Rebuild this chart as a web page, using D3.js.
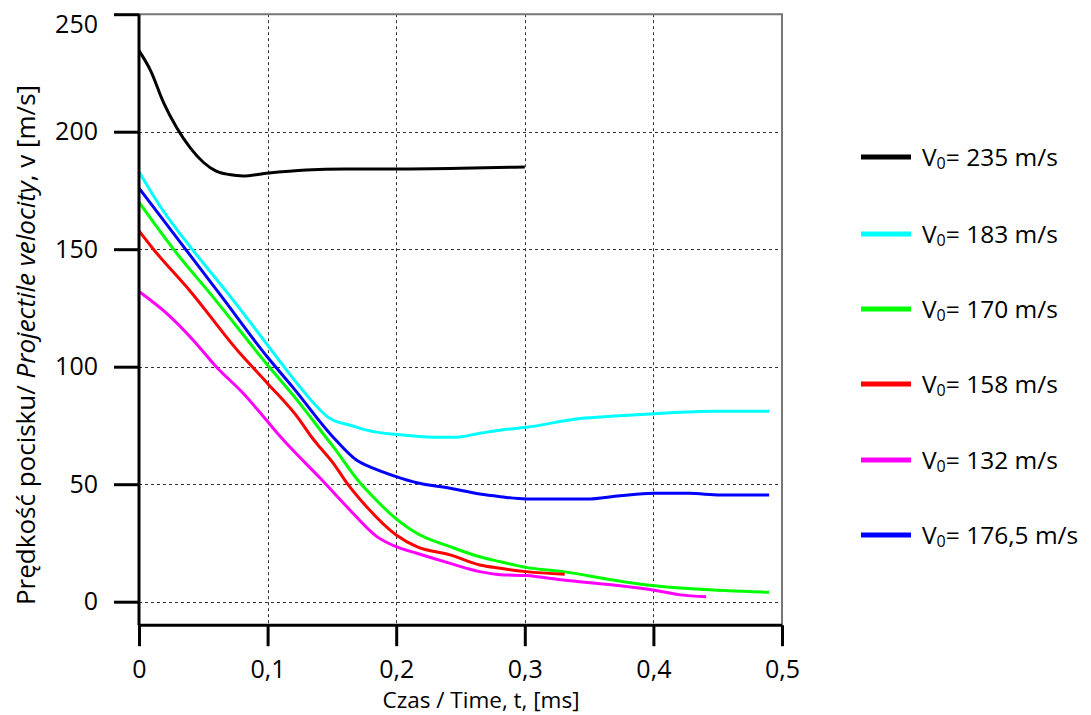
<!DOCTYPE html>
<html>
<head>
<meta charset="utf-8">
<script src="https://cdn.jsdelivr.net/npm/d3@7"></script>
<style>
  html, body { margin: 0; padding: 0; background: #fff; }
  svg { display: block; font-family: "Open Sans", sans-serif; }
</style>
</head>
<body>
<svg id="chart" width="1091" height="715"></svg>
<script>
// ---- data (t in ms, v in m/s) ----
const xTicks = [0, 0.1, 0.2, 0.3, 0.4, 0.5];
const yTicks = [0, 50, 100, 150, 200, 250];

const labels = ["235", "183", "170", "158", "132", "176,5"];
const colors = ["#000000", "#00ffff", "#00ff00", "#ff0000", "#ff00ff", "#0000ff"];

const v235 = [[0,234.5],[0.009,226],[0.019,212.5],[0.029,202],[0.04,193],[0.05,187],[0.06,183.2],[0.07,181.8],[0.081,181.2],[0.099,182.3],[0.13,183.7],[0.16,184.1],[0.2,184.1],[0.25,184.4],[0.3,185]];
const v183 = [[0,183],[0.018,167],[0.037,153],[0.0694,131],[0.1,109.2],[0.112,100.5],[0.125,91.5],[0.1485,78],[0.165,75],[0.177,73],[0.203,71],[0.229,70],[0.247,70],[0.265,71.7],[0.281,73],[0.301,74.2],[0.343,78],[0.37,79],[0.401,80],[0.447,81],[0.49,81]];
const v170 = [[0,170],[0.0268,150],[0.0578,129.5],[0.1,100.7],[0.125,84.4],[0.145,70.2],[0.151,66],[0.172,50.5],[0.177,47.5],[0.198,36.2],[0.216,29.1],[0.242,23.4],[0.265,19.1],[0.281,17],[0.301,14.6],[0.33,12.8],[0.369,9.2],[0.401,6.8],[0.434,5.4],[0.49,4.0]];
const v158 = [[0,157.8],[0.0112,150],[0.04,132],[0.078,106],[0.1,92.9],[0.125,77.3],[0.134,70.2],[0.141,65.5],[0.151,59],[0.161,51],[0.177,40.4],[0.2,28.4],[0.216,23.4],[0.242,19.9],[0.265,15.6],[0.281,14.2],[0.301,12.8],[0.331,11.7]];
const v132 = [[0,132],[0.0215,122.7],[0.042,111.4],[0.06,100],[0.081,88.7],[0.099,77.3],[0.11,70.2],[0.117,66],[0.141,52.5],[0.164,39],[0.185,27.7],[0.2,23.4],[0.216,20.6],[0.242,16.3],[0.265,12.8],[0.281,11.5],[0.301,11.1],[0.33,9.2],[0.369,7.1],[0.403,4.7],[0.421,2.9],[0.441,2.1]];
const v176 = [[0,176],[0.032,153],[0.064,130],[0.1,104],[0.12,91],[0.151,70],[0.169,60.3],[0.182,56.8],[0.2,53.2],[0.216,50.6],[0.242,48.3],[0.265,45.8],[0.281,44.7],[0.301,43.7],[0.348,43.7],[0.374,45.1],[0.4,46.1],[0.428,46.1],[0.452,45.4],[0.49,45.4]];

const seriesData = [v235, v183, v170, v158, v132, v176];
const drawOrder = [0, 1, 5, 2, 3, 4];

// ---- layout ----
const svg = d3.select("#chart");
const x = d3.scaleLinear().domain([0, 0.5]).range([139, 782]);
const y = d3.scaleLinear().domain([-10, 250]).range([625.2, 14.2]);
const fmt = d => d === 0 ? "0" : String(d).replace(".", ",");

// grid
const grid = svg.append("g");
grid.selectAll("line.h").data(yTicks.filter(d => d < 250)).join("line")
  .attr("x1", x(0)).attr("x2", x(0.5))
  .attr("y1", d => Math.round(y(d)) + 0.5).attr("y2", d => Math.round(y(d)) + 0.5)
  .attr("stroke", "#333").attr("stroke-width", 1).attr("stroke-dasharray", "3,3");
grid.selectAll("line.v").data(xTicks.filter(d => d > 0 && d < 0.5)).join("line")
  .attr("x1", d => Math.round(x(d)) + 0.5).attr("x2", d => Math.round(x(d)) + 0.5)
  .attr("y1", y(250)).attr("y2", y(-10))
  .attr("stroke", "#333").attr("stroke-width", 1).attr("stroke-dasharray", "3,3");

// top/right border
svg.append("path")
  .attr("d", `M${x(0)},${y(250)}H${x(0.5)}V${y(-10)}`)
  .attr("fill", "none").attr("stroke", "#777").attr("stroke-width", 2);

// lines
const line = d3.line().x(d => x(d[0])).y(d => y(d[1])).curve(d3.curveMonotoneX);
svg.append("g").selectAll("path").data(drawOrder).join("path")
  .attr("d", i => line(seriesData[i]))
  .attr("fill", "none").attr("stroke", i => colors[i])
  .attr("stroke-width", 3).attr("stroke-linejoin", "round");

// axes
const yAxis = svg.append("g").attr("transform", `translate(${x(0)},0)`)
  .call(d3.axisLeft(y).tickValues(yTicks).tickSize(25).tickPadding(16).tickFormat(fmt));
const xAxis = svg.append("g").attr("transform", `translate(0,${y(-10)})`)
  .call(d3.axisBottom(x).tickValues(xTicks).tickSize(21).tickPadding(14).tickFormat(fmt));
[yAxis, xAxis].forEach(a => {
  a.select(".domain").attr("stroke", "#000").attr("stroke-width", 3);
  a.selectAll(".tick line").attr("stroke", "#000").attr("stroke-width", 3);
  a.selectAll(".tick text").attr("fill", "#000").style("font-size", "25px")
    .style("font-family", "'Open Sans', sans-serif");
});
yAxis.select(".domain").attr("d", `M0,${y(250)}V${y(-10)}`);
xAxis.select(".domain").attr("d", `M${x(0)},0H${x(0.5)}`);
// top label sits below its tick so that it stays inside the picture
yAxis.selectAll(".tick text").filter(d => d === 250).attr("dy", "0.75em");

// axis titles
svg.append("text").attr("x", 481).attr("y", 708).attr("text-anchor", "middle")
  .style("font-size", "22.5px").text("Czas / Time, t, [ms]");
const yt = svg.append("text").attr("transform", "translate(35,345) rotate(-90)")
  .attr("text-anchor", "middle").style("font-size", "26px");
yt.append("tspan").text("Prędkość pocisku/ ");
yt.append("tspan").style("font-style", "italic").text("Projectile velocity");
yt.append("tspan").text(", v [m/s]");

// legend
const legendY = [157, 234, 309, 384, 460, 535];
const leg = svg.append("g").selectAll("g").data(d3.range(6)).join("g")
  .attr("transform", i => `translate(861,${legendY[i]})`);
leg.append("line").attr("x1", 0).attr("x2", 50).attr("y1", 0).attr("y2", 0)
  .attr("stroke", i => colors[i]).attr("stroke-width", 5);
const lt = leg.append("text").attr("x", 61).attr("y", 8.5).style("font-size", "24.5px");
lt.append("tspan").text("V");
lt.append("tspan").attr("dy", 3).style("font-size", "16px").text("0");
lt.append("tspan").attr("dy", -3).text(i => "= " + labels[i] + " m/s");
</script>
</body>
</html>
